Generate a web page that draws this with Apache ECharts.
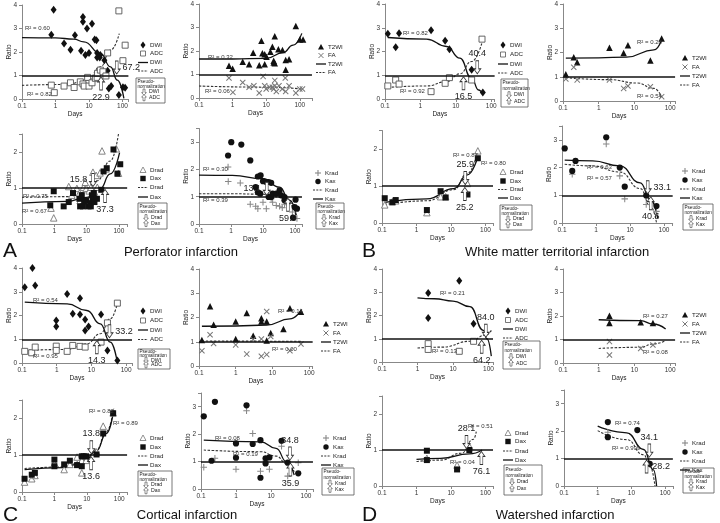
<!DOCTYPE html>
<html><head><meta charset="utf-8">
<script src="https://cdn.jsdelivr.net/npm/echarts@6/dist/echarts.min.js"></script>
<style>html,body{margin:0;padding:0;background:#fff}#c{width:720px;height:523px}</style>
</head><body><div id="c"></div>
<script>
// ---------- tick labels ----------
const xTickLabels = ['0.1', '1', '10', '100'];
const yTickLabels = ['0', '1', '2', '3', '4'];

// ---------- A: Perforator infarction ----------
const a1DWI = [[0.88,3.8],[0.75,2.73],[1.8,2.36],[2.8,2.1],[3.8,2.71],[5.8,2.05],[6.6,3.49],[6.6,3.29],[7.8,1.87],[8.7,3.0],[10,1.96],[12.3,3.2],[14.8,2.53],[16.7,2.5],[17.5,1.96],[17.5,1.77],[20.9,1.77],[21.8,1.87],[28.8,1.65],[36,1.2],[39,0.45],[46,0.55],[78,0.17],[103,0.5],[120,0.48]];
const a1ADC = [[0.75,0.59],[0.92,0.27],[1.8,0.55],[2.8,0.69],[3.6,0.49],[5.5,0.73],[6.6,0.64],[7.2,0.55],[9.1,0.92],[10,0.55],[12.3,0.69],[15.5,0.88],[17.5,0.92],[18,1.09],[21.8,1.23],[26,1.16],[32,0.98],[36,1.96],[78,3.75],[103,1.63],[120,2.29]];
const a1DWIFit = [[0.1,2.61],[1,2.6],[3.5,2.55],[7,2.43],[22,1.94],[44,1.37],[70,0.8],[110,0.03]];
const a1ADCFit = [[0.1,0.58],[2,0.62],[9,0.8],[22,1.37],[44,2.08],[80,2.78]];
const a1R2 = ['R² = 0.60', 'R² = 0.82'];
const a1Pseudo = [67.2, 22.9];

const a2T2 = [[0.78,1.37],[1.0,1.24],[2.0,1.54],[3.1,1.44],[4.1,1.93],[6.2,1.39],[7.2,2.44],[7.7,1.9],[9.0,1.86],[9.0,1.44],[10.2,1.76],[13.3,1.97],[15.3,2.18],[16.7,1.58],[18,2.63],[16.7,1.51],[18,1.48],[23,2.07],[30.5,2.04],[38,1.62],[38,1.2],[48,1.65],[76,3.06],[100,2.49],[125,2.49]];
const a2FA = [[0.78,0.85],[1.02,0.24],[2.0,0.66],[3.1,0.46],[4.3,0.52],[6.2,0.21],[8.1,0.92],[9.0,0.52],[10,0.38],[12.7,0.46],[15.3,0.46],[16.7,0.38],[18,0.75],[18,0.52],[20,0.28],[24,0.52],[30,0.38],[37,0.85],[38,0.28],[48,0.52],[76,0.21],[100,0.38],[120,0.38]];
const a2T2Fit = [[0.1,1.66],[1,1.66],[10,1.69],[32,1.93],[63,2.25],[115,2.75]];
const a2FAFit = [[0.1,0.51],[10,0.46],[120,0.38]];
const a2R2 = ['R² = 0.32', 'R² = 0.06'];

const a3Drad = [[0.79,0.44],[0.96,0.17],[2.8,1.04],[3.5,0.8],[5.0,0.99],[6.0,0.86],[6.3,0.65],[8.0,1.02],[9.1,1.16],[9.8,0.99],[10.7,0.64],[12,0.92],[13.5,1.02],[15.7,1.44],[17.5,0.89],[19.8,1.35],[21.5,1.02],[26,1.42],[30,2.03],[40,1.53],[83,2.09],[97,1.41]];
const a3Dax = [[0.75,0.52],[0.96,0.91],[1.95,0.49],[2.8,0.61],[3.8,0.86],[6.0,0.7],[6.3,0.49],[7.1,0.8],[7.7,0.49],[8.4,0.64],[9.8,0.66],[11.5,0.49],[13,0.58],[14.6,0.8],[15.7,0.7],[13.5,0.49],[16.7,0.86],[17.5,0.61],[20.9,0.7],[28.5,0.95],[33.5,1.46],[42,1.55],[68,2.07],[90,1.4],[110,1.66]];
const a3DradFit = [[0.1,0.74],[2.5,0.76],[8,0.88],[21,1.2],[54,1.75],[97,2.5]];
const a3DaxFit = [[0.1,0.58],[2.5,0.63],[10,0.74],[26,0.97],[54,1.39],[105,1.98]];
const a3R2 = ['R² = 0.75', 'R² = 0.67'];
const a3Pseudo = [15.8, 37.3];

const a4Krad = [[0.81,2.09],[0.82,1.56],[1.95,1.5],[4.0,0.72],[5.9,0.65],[6.9,0.56],[10,0.8],[12.7,0.56],[15,1.05],[18,0.93],[20,0.8],[26,0.68],[33,0.65],[40,0.6],[47,0.72],[53,0.8],[83,0.44],[110,0.6],[115,0.2]];
const a4Kax = [[0.81,2.51],[1.02,3.0],[2.1,2.91],[4.0,2.33],[5.9,1.35],[6.9,1.16],[8.2,1.11],[6.9,1.74],[8.4,1.78],[10,1.57],[12.7,1.54],[15,1.54],[18,1.51],[15,0.99],[18,0.99],[20,1.11],[26,1.11],[33,1.23],[37,1.05],[47,0.99],[47,0.87],[87,0.23],[104,0.89],[115,0.56],[97,0.62]];
const a4KradFit = [[0.1,1.11],[1,1.11],[10,1.09],[33,0.99],[68,0.74],[110,0.26]];
const a4KaxFit = [[0.1,1.79],[1.1,1.78],[10,1.66],[33,1.35],[68,0.87],[110,0.32]];
const a4R2 = ['R² = 0.30', 'R² = 0.39'];
const a4Pseudo = [13.1, 59.9];

// ---------- B: White matter territorial infarction ----------
const b1DWI = [[0.12,2.75],[0.2,2.18],[0.25,2.77],[2,2.89],[5,2.45],[6.6,2.1],[28,1.23],[58,0.27]];
const b1ADC = [[0.12,0.55],[0.2,0.8],[0.25,0.63],[2,0.31],[5,0.66],[6.6,0.9],[28,0.8],[55,2.52]];
const b1DWIFit = [[0.12,2.59],[1.5,2.52],[5.5,2.21],[13,1.72],[28,0.87],[44,0.38],[58,0.2]];
const b1ADCFit = [[0.12,0.49],[1.5,0.55],[5.5,0.73],[13,1.06],[28,1.58],[58,2.49]];
const b1R2 = ['R² = 0.82', 'R² = 0.92'];
const b1Pseudo = [40.4, 16.5];

const b2T2 = [[0.12,1.1],[0.2,1.8],[0.25,1.6],[2,2.2],[5,1.98],[6.6,2.3],[28,1.67],[58,2.58]];
const b2FA = [[0.12,0.91],[0.2,1.39],[0.25,0.87],[2,0.87],[5,0.52],[6.6,0.62],[28,0.59],[58,0.18]];
const b2T2Fit = [[0.12,1.77],[1,1.78],[6,1.81],[35,2.11],[58,2.52]];
const b2FAFit = [[0.12,0.96],[2,0.88],[12,0.74],[35,0.52],[58,0.18]];
const b2R2 = ['R² = 0.28', 'R² = 0.54'];

const b3Drad = [[0.12,0.49],[0.2,0.58],[0.25,0.6],[2,0.28],[5,0.71],[7,0.71],[30,1.07],[60,1.95]];
const b3Dax = [[0.12,0.67],[0.2,0.56],[0.25,0.62],[2,0.35],[5,0.86],[7,0.69],[30,0.77],[60,1.75]];
const b3DradFit = [[0.12,0.5],[2,0.6],[12,0.9],[30,1.34],[60,1.95]];
const b3DaxFit = [[0.12,0.56],[2,0.65],[12,0.93],[30,1.3],[60,1.79]];
const b3R2 = ['R² = 0.87', 'R² = 0.80'];
const b3Pseudo = [25.9, 25.2];

const b4Krad = [[0.2,1.76],[2,2.85],[5,1.7],[7,0.87],[30,0.67],[60,0.42]];
const b4Kax = [[0.12,2.69],[0.2,1.88],[0.25,2.24],[2,3.09],[5,2.0],[7,1.31],[30,0.99],[60,0.61]];
const b4KradFit = [[0.12,2.12],[0.8,2.06],[5,1.84],[20,1.24],[40,0.61],[60,0.02]];
const b4KaxFit = [[0.12,2.27],[0.8,2.24],[5,2.06],[20,1.45],[40,0.85],[65,0.18]];
const b4R2 = ['R² = 0.63', 'R² = 0.57'];
const b4Pseudo = [33.1, 40.6];

// ---------- C: Cortical infarction ----------
const c1DWI = [[0.12,3.19],[0.2,4.0],[0.24,3.26],[0.97,1.79],[0.97,1.54],[2,2.91],[2.9,2.07],[4.7,2.73],[4.7,2.04],[6.6,1.83],[6.6,1.37],[8.3,1.54],[19,2.04],[29,0.53],[56,0.11]];
const c1ADC = [[0.12,0.49],[0.19,0.43],[0.24,0.67],[0.97,0.71],[0.97,0.53],[2,0.49],[2.9,0.74],[4.7,0.7],[6.6,0.67],[19,0.88],[29,1.69],[56,2.52]];
const c1DWIFit = [[0.12,2.56],[2,2.49],[7.4,2.21],[18,1.65],[35,0.88],[56,0.02]];
const c1ADCFit = [[0.12,0.53],[2,0.57],[7.4,0.81],[18,1.23],[35,1.86],[56,2.52]];
const c1R2 = ['R² = 0.54', 'R² = 0.95'];
const c1Pseudo = [33.2, 14.3];

const c2T2 = [[0.12,1.07],[0.2,2.46],[0.25,1.7],[1,1.83],[1,1.11],[2,2.19],[3,1.25],[5,1.97],[5,1.83],[7,1.83],[7,1.05],[9,1.36],[20,1.53],[30,2.38],[60,2.24]];
const c2FA = [[0.12,0.63],[0.2,1.29],[0.25,0.93],[1,0.87],[2,0.49],[3,1.09],[5,0.4],[5,1.11],[7,2.25],[7,0.47],[9,1.22],[30,0.63],[60,0.91]];
const c2T2Fit = [[0.12,1.64],[1,1.65],[7,1.69],[30,1.94],[60,2.28]];
const c2FAFit = [[0.12,1.03],[60,1.02]];
const c2R2 = ['R² = 0.14', 'R² = 0.00'];

const c3Drad = [[0.12,0.27],[0.2,0.36],[0.25,0.45],[1,0.79],[2,0.61],[3,0.75],[5,0.95],[7,0.52],[7,0.86],[9.5,0.86],[20,1.09],[32,1.79],[65,2.15]];
const c3Dax = [[0.12,0.36],[0.2,0.47],[0.25,0.52],[1,0.88],[1,0.7],[2,0.75],[3,0.85],[5,0.73],[7,0.97],[7,0.7],[8,0.97],[9.5,0.97],[20,1.02],[32,1.59],[65,2.14]];
const c3DradFit = [[0.12,0.64],[2,0.68],[8,0.85],[20,1.15],[40,1.64],[68,2.27]];
const c3DaxFit = [[0.12,0.61],[2,0.66],[8,0.82],[20,1.12],[40,1.59],[68,2.23]];
const c3R2 = ['R² = 0.82', 'R² = 0.89'];
const c3Pseudo = [13.8, 13.6];

const c4Krad = [[0.12,0.79],[0.25,1.12],[1,0.72],[2,2.85],[3,2.02],[5,0.65],[7,1.02],[9,0.72],[20,1.56],[30,0.47],[60,0.96]];
const c4Kax = [[0.12,2.65],[0.25,3.18],[0.2,1.03],[1,1.66],[1,1.14],[2,3.05],[3,1.64],[5,1.78],[5,0.41],[7,1.12],[7,0.93],[9,1.15],[20,1.76],[30,0.96],[60,0.57]];
const c4KradFit = [[0.12,1.42],[5,1.36],[14,1.2],[28,0.93],[46,0.63]];
const c4KaxFit = [[0.12,1.78],[5,1.72],[14,1.48],[28,0.99],[46,0.51]];
const c4R2 = ['R² = 0.08', 'R² = 0.19'];
const c4Pseudo = [34.8, 35.9];

// ---------- D: Watershed infarction ----------
const d1DWI = [[2,2.97],[2,1.89],[15,3.5],[38,1.64]];
const d1ADC = [[2,0.79],[2,0.54],[15,0.46],[38,0.89]];
const d1DWIFit = [[1,2.76],[3,2.72],[10,2.62],[30,2.38],[72,1.36],[90,1.0],[120,0.25]];
const d1ADCFit = [[1,0.6],[5,0.64],[30,0.89],[88,1.17],[120,1.36]];
const d1R2 = ['R² = 0.21', 'R² = 0.13'];
const d1Pseudo = [84.0, 64.2];

const d2T2 = [[2,2.01],[2,1.7],[15,1.73],[33,1.7]];
const d2FA = [[2,0.91],[2,0.34],[15,0.62],[33,0.77]];
const d2T2Fit = [[1,1.84],[15,1.8],[33,1.66],[75,1.45]];
const d2FAFit = [[1,0.62],[15,0.67],[33,0.81],[75,0.95]];
const d2R2 = ['R² = 0.27', 'R² = 0.08'];

const d3Drad = [[2,0.77],[15,0.58],[34,1.11]];
const d3Dax = [[2,0.98],[2,0.72],[15,0.46],[34,1.0]];
const d3DradFit = [[1,0.68],[5,0.72],[20,0.91],[45,1.3],[54,1.51]];
const d3DaxFit = [[1,0.74],[5,0.77],[34,0.89],[80,1.0]];
const d3R2 = ['R² = 0.51', 'R² = 0.04'];
const d3Pseudo = [28.1, 76.1];

const d4Krad = [[2,1.96],[35,0.78]];
const d4Kax = [[2,2.33],[2,1.78],[15,2.04],[35,0.81]];
const d4KradFit = [[1,2.02],[7.3,1.69],[23,1.14],[36,0.71],[50,0.0]];
const d4KaxFit = [[1,2.18],[7.3,1.94],[23,1.33],[45,0.59],[56,0.0]];
const d4R2 = ['R² = 0.74', 'R² = 0.999'];
const d4Pseudo = [34.1, 28.2];

const titles = ['Perforator infarction', 'White matter territorial infarction', 'Cortical infarction', 'Watershed infarction'];
const letters = ['A', 'B', 'C', 'D'];
const pseudoTitle = ['Pseudo-', 'normalization'];

// ---------- styling ----------
const FONT = '"Liberation Sans", Arial, Helvetica, sans-serif';
const X_PATH = 'path://M0,1.2L1.2,0L5,3.8L8.8,0L10,1.2L6.2,5L10,8.8L8.8,10L5,6.2L1.2,10L0,8.8L3.8,5Z';
const PLUS_PATH = 'path://M4.2,0L5.8,0L5.8,4.2L10,4.2L10,5.8L5.8,5.8L5.8,10L4.2,10L4.2,5.8L0,5.8L0,4.2L4.2,4.2Z';
const UP_ARROW = 'path://M5,0L10,6L7,6L7,16L3,16L3,6L0,6Z';
const DOWN_ARROW = 'path://M3,0L7,0L7,10L10,10L5,16L0,10L3,10Z';
const MARKS = {
  dwi: {symbol: 'diamond', size: [6, 8], fill: '#111', stroke: null},
  adc: {symbol: 'rect', size: 6, fill: '#fff', stroke: '#555'},
  t2: {symbol: 'triangle', size: 6.5, fill: '#111', stroke: null},
  fa: {symbol: X_PATH, size: 6, fill: '#777', stroke: null},
  drad: {symbol: 'triangle', size: 6.5, fill: '#fff', stroke: '#777'},
  dax: {symbol: 'rect', size: 6, fill: '#111', stroke: null},
  krad: {symbol: PLUS_PATH, size: 6.5, fill: '#888', stroke: null},
  kax: {symbol: 'circle', size: 6.2, fill: '#111', stroke: null}
};

// ---------- panel layout ----------
const panels = [
  {left:22, top:5, bottom:99, decade:33.5, xmax:150, ymax:4, s1:{name:'DWI',data:a1DWI,mark:'dwi'}, s2:{name:'ADC',data:a1ADC,mark:'adc'}, f:[a1DWIFit,a1ADCFit], dash:[false,true], r2:a1R2, r2pos:[[25,28],[27,94]], pseudo:a1Pseudo, plab:['right','bottom'], legend:{x:143, ys:[45,53.5,62.5,71], box:[136,78,29,25]}},
  {left:199, top:4, bottom:98, decade:33.6, xmax:230, ymax:4, s1:{name:'T2WI',data:a2T2,mark:'t2'}, s2:{name:'FA',data:a2FA,mark:'fa'}, f:[a2T2Fit,a2FAFit], dash:[false,true], r2:a2R2, r2pos:[[208,57],[205,91]], legend:{x:321, ys:[47,55.5,64,72.5]}},
  {left:22, top:134, bottom:224, decade:32.3, xmax:180, ymax:2.5, s1:{name:'Drad',data:a3Drad,mark:'drad'}, s2:{name:'Dax',data:a3Dax,mark:'dax'}, f:[a3DradFit,a3DaxFit], dash:[true,false], r2:a3R2, r2pos:[[23,196],[22,211]], pseudo:a3Pseudo, plab:['left','bottom'], legend:{x:143, ys:[170,178.5,187.5,197], box:[138,203,29,26]}},
  {left:199, top:128.5, bottom:224, decade:32, xmax:165, ymax:3.5, s1:{name:'Krad',data:a4Krad,mark:'krad'}, s2:{name:'Kax',data:a4Kax,mark:'kax'}, f:[a4KradFit,a4KaxFit], dash:[true,false], r2:a4R2, r2pos:[[203,169],[203,200]], pseudo:a4Pseudo, plab:['left','bottom'], legend:{x:318, ys:[173,181.5,190,199], box:[316,203,28,26]}},

  {left:385, top:4, bottom:99, decade:35.4, xmax:125, ymax:4, s1:{name:'DWI',data:b1DWI,mark:'dwi'}, s2:{name:'ADC',data:b1ADC,mark:'adc'}, f:[b1DWIFit,b1ADCFit], dash:[false,true], r2:b1R2, r2pos:[[403,33],[400,91]], pseudo:b1Pseudo, plab:['top','bottom'], legend:{x:503, ys:[45,54.5,64,73], box:[501,79,27,28]}},
  {left:563, top:4, bottom:101, decade:35.7, xmax:138, ymax:4, s1:{name:'T2WI',data:b2T2,mark:'t2'}, s2:{name:'FA',data:b2FA,mark:'fa'}, f:[b2T2Fit,b2FAFit], dash:[false,true], r2:b2R2, r2pos:[[637,42],[637,96]], legend:{x:685, ys:[58,67,76,85]}},
  {left:382, top:130.5, bottom:223, decade:34.5, xmax:165, ymax:2.5, s1:{name:'Drad',data:b3Drad,mark:'drad'}, s2:{name:'Dax',data:b3Dax,mark:'dax'}, f:[b3DradFit,b3DaxFit], dash:[true,false], r2:b3R2, r2pos:[[453,155],[481,163]], pseudo:b3Pseudo, plab:['top','bottom'], legend:{x:503, ys:[172,181,189.5,198], box:[500,205,32,25]}},
  {left:562, top:126, bottom:223, decade:34, xmax:180, ymax:3.5, s1:{name:'Krad',data:b4Krad,mark:'krad'}, s2:{name:'Kax',data:b4Kax,mark:'kax'}, f:[b4KradFit,b4KaxFit], dash:[true,false], r2:b4R2, r2pos:[[587,167],[587,178]], pseudo:b4Pseudo, plab:['right','bottom'], legend:{x:685, ys:[171,180,189,198], box:[683,204,30,26]}},

  {left:22, top:268, bottom:363, decade:34.7, xmax:148, ymax:4, s1:{name:'DWI',data:c1DWI,mark:'dwi'}, s2:{name:'ADC',data:c1ADC,mark:'adc'}, f:[c1DWIFit,c1ADCFit], dash:[false,true], r2:c1R2, r2pos:[[33,300],[33,356]], pseudo:c1Pseudo, plab:['right','bottom'], legend:{x:143, ys:[311,320.5,330,339.5], box:[138,349,32,20]}},
  {left:199, top:269, bottom:366, decade:36.7, xmax:125, ymax:4, s1:{name:'T2WI',data:c2T2,mark:'t2'}, s2:{name:'FA',data:c2FA,mark:'fa'}, f:[c2T2Fit,c2FAFit], dash:[false,true], r2:c2R2, r2pos:[[278,311],[272,349]], legend:{x:326, ys:[324,333,342,351]}},
  {left:22, top:400, bottom:492, decade:32.4, xmax:175, ymax:2.5, s1:{name:'Drad',data:c3Drad,mark:'drad'}, s2:{name:'Dax',data:c3Dax,mark:'dax'}, f:[c3DradFit,c3DaxFit], dash:[true,false], r2:c3R2, r2pos:[[89,411],[113,423]], pseudo:c3Pseudo, plab:['top','bottom'], legend:{x:143, ys:[438,447,456,465], box:[138,471,34,25]}},
  {left:201, top:393, bottom:489, decade:35, xmax:158, ymax:3.5, s1:{name:'Krad',data:c4Krad,mark:'krad'}, s2:{name:'Kax',data:c4Kax,mark:'kax'}, f:[c4KradFit,c4KaxFit], dash:[true,false], r2:c4R2, r2pos:[[215,438],[233,454]], pseudo:c4Pseudo, plab:['top','bottom'], legend:{x:326, ys:[438,447,456,465], box:[322,468,32,27]}},

  {left:382, top:269, bottom:362, decade:35.5, xmax:134, ymax:4, s1:{name:'DWI',data:d1DWI,mark:'dwi'}, s2:{name:'ADC',data:d1ADC,mark:'adc'}, f:[d1DWIFit,d1ADCFit], dash:[false,true], r2:d1R2, r2pos:[[440,293],[432,351]], pseudo:d1Pseudo, plab:['top','bottom'], legend:{x:508, ys:[311,320,329,338], box:[503,341,37,28]}},
  {left:563, top:269, bottom:363, decade:35.7, xmax:138, ymax:4, s1:{name:'T2WI',data:d2T2,mark:'t2'}, s2:{name:'FA',data:d2FA,mark:'fa'}, f:[d2T2Fit,d2FAFit], dash:[false,true], r2:d2R2, r2pos:[[643,316],[643,352]], legend:{x:685, ys:[315,324,333,342]}},
  {left:382, top:396, bottom:486, decade:34.5, xmax:165, ymax:2.5, s1:{name:'Drad',data:d3Drad,mark:'drad'}, s2:{name:'Dax',data:d3Dax,mark:'dax'}, f:[d3DradFit,d3DaxFit], dash:[true,false], r2:d3R2, r2pos:[[468,426],[450,462]], pseudo:d3Pseudo, plab:['top','bottom'], legend:{x:508, ys:[433,441.5,451,460], box:[504,465,38,30]}},
  {left:564, top:390, bottom:486, decade:33.7, xmax:170, ymax:3.5, s1:{name:'Krad',data:d4Krad,mark:'krad'}, s2:{name:'Kax',data:d4Kax,mark:'kax'}, f:[d4KradFit,d4KaxFit], dash:[true,false], r2:d4R2, r2pos:[[615,423],[612,448]], pseudo:d4Pseudo, plab:['top','right'], legend:{x:685, ys:[443,452,461,470], box:[683,468,31,25]}}
];
const titlePos = [[3,251,181,252],[362,251,557,252],[3,515,187,515],[362,515,555,515]];

// ---------- helpers ----------
function txt(x, y, text, size, align, color, weight) {
  align = align || 'left';
  return {type:'text', x:x, y:y, z:60, silent:true,
    style:{text:text, fill:color || '#222', font:(weight || 'normal') + ' ' + size + 'px ' + FONT,
      textAlign:align, textVerticalAlign:'middle', align:align, verticalAlign:'middle'}};
}
function seg(x1, y1, x2, y2, color, w, dash) {
  return {type:'line', z:60, silent:true, shape:{x1:x1, y1:y1, x2:x2, y2:y2},
    style:{stroke:color, lineWidth:w, lineDash:dash || null}};
}
function markerGraphic(kind, cx, cy) {
  const S = {z:60, silent:true};
  switch (kind) {
    case 'dwi': return [Object.assign({type:'polygon', shape:{points:[[cx,cy-3.5],[cx+2.5,cy],[cx,cy+3.5],[cx-2.5,cy]]}, style:{fill:'#111'}}, S)];
    case 'adc': return [Object.assign({type:'rect', shape:{x:cx-2.5, y:cy-2.5, width:5, height:5}, style:{fill:'#fff', stroke:'#555', lineWidth:0.8}}, S)];
    case 't2': return [Object.assign({type:'polygon', shape:{points:[[cx,cy-3],[cx+3,cy+2.5],[cx-3,cy+2.5]]}, style:{fill:'#111'}}, S)];
    case 'fa': return [seg(cx-2.5,cy-2.5,cx+2.5,cy+2.5,'#777',1), seg(cx+2.5,cy-2.5,cx-2.5,cy+2.5,'#777',1)];
    case 'drad': return [Object.assign({type:'polygon', shape:{points:[[cx,cy-3],[cx+3,cy+2.5],[cx-3,cy+2.5]]}, style:{fill:'#fff', stroke:'#777', lineWidth:0.8}}, S)];
    case 'dax': return [Object.assign({type:'rect', shape:{x:cx-2.7, y:cy-2.7, width:5.4, height:5.4}, style:{fill:'#111'}}, S)];
    case 'krad': return [seg(cx-3,cy,cx+3,cy,'#888',1.1), seg(cx,cy-3,cx,cy+3,'#888',1.1)];
    case 'kax': return [Object.assign({type:'circle', shape:{cx:cx, cy:cy, r:2.7}, style:{fill:'#111'}}, S)];
  }
  return [];
}
function smallArrow(cx, cy, up) {
  const s = up ? 1 : -1;
  const pts = [[0,-3.2],[2.4,-0.6],[1,-0.6],[1,3],[-1,3],[-1,-0.6],[-2.4,-0.6]].map(p => [cx + p[0], cy + s * p[1]]);
  return {type:'polygon', z:60, silent:true, shape:{points:pts}, style:{fill:'#fff', stroke:'#444', lineWidth:0.6}};
}
function legendGraphics(p) {
  const g = [];
  const L = p.legend, lx = L.x;
  const items = [
    {t:'m', m:p.s1.mark, name:p.s1.name}, {t:'m', m:p.s2.mark, name:p.s2.name},
    {t:'l', dash:p.dash[0], name:p.s1.name}, {t:'l', dash:p.dash[1], name:p.s2.name}];
  items.forEach((it, k) => {
    const y = L.ys[k];
    if (it.t === 'm') g.push.apply(g, markerGraphic(it.m, lx, y));
    else g.push(seg(lx - 5, y, lx + 5, y, it.dash ? '#333' : '#111', it.dash ? 1 : 1.3, it.dash ? [2, 1.3] : null));
    g.push(txt(lx + 7, y, it.name, 6.2));
  });
  if (L.box) {
    const [bx, by, bw, bh] = L.box;
    g.push({type:'rect', z:59, silent:true, shape:{x:bx, y:by, width:bw, height:bh}, style:{fill:'#fff', stroke:'#555', lineWidth:0.8}});
    g.push(txt(bx + 1.5, by + bh * 0.15, pseudoTitle[0], 4.6));
    g.push(txt(bx + 1.5, by + bh * 0.35, pseudoTitle[1], 4.6));
    g.push(smallArrow(bx + 8, by + bh * 0.56, false));
    g.push(txt(bx + 13, by + bh * 0.56, p.s1.name, 5.2));
    g.push(smallArrow(bx + 8, by + bh * 0.79, true));
    g.push(txt(bx + 13, by + bh * 0.79, p.s2.name, 5.2));
  }
  return g;
}
function fmtX(v) {
  const l = Math.log10(v);
  if (Math.abs(l - Math.round(l)) > 1e-6) return '';
  return xTickLabels[Math.round(l) + 1] || '';
}
function fmtY(v) {
  return Number.isInteger(v) ? (yTickLabels[v] || '') : '';
}

// ---------- build option ----------
const grids = [], xAxes = [], yAxes = [], series = [], graphics = [];
const axisCommon = {
  axisLine:{show:true, onZero:false, lineStyle:{color:'#888', width:1}},
  axisTick:{show:true, length:3, lineStyle:{color:'#888'}},
  splitLine:{show:false}
};
panels.forEach((p, i) => {
  const width = (Math.log10(p.xmax) + 1) * p.decade;
  grids.push({left:p.left, top:p.top, width:width, height:p.bottom - p.top});
  xAxes.push(Object.assign({type:'log', logBase:10, gridIndex:i, min:0.1, max:p.xmax,
    axisLabel:{fontSize:6.5, color:'#333', margin:4, formatter:fmtX, fontFamily:FONT},
    name:'Days', nameLocation:'middle', nameGap:11.5, nameMoveOverlap:false,
    nameTextStyle:{fontSize:6.5, color:'#222', fontFamily:FONT}}, axisCommon));
  yAxes.push(Object.assign({type:'value', gridIndex:i, min:0, max:p.ymax, interval:1,
    axisLabel:{fontSize:6.5, color:'#333', margin:5, formatter:fmtY, fontFamily:FONT},
    name:'Ratio', nameLocation:'middle', nameGap:9, nameRotate:90, nameMoveOverlap:false,
    nameTextStyle:{fontSize:6.5, color:'#222', fontFamily:FONT}}, axisCommon));

  [p.s1, p.s2].forEach((s, k) => {
    const m = MARKS[s.mark];
    const ser = {type:'scatter', name:s.name, xAxisIndex:i, yAxisIndex:i, data:s.data,
      symbol:m.symbol, symbolSize:m.size, z:4,
      itemStyle:{color:m.fill, borderColor:m.stroke || m.fill, borderWidth:m.stroke ? 0.9 : 0, opacity:1},
      emphasis:{disabled:true}};
    if (k === 0) {
      ser.markLine = {silent:true, symbol:['none','none'], label:{show:false},
        lineStyle:{color:'#111', width:1.5, type:'solid'}, data:[{yAxis:1}], animation:false};
    }
    series.push(ser);
  });
  p.f.forEach((d, k) => {
    const dash = p.dash[k];
    series.push({type:'line', name:(k ? p.s2.name : p.s1.name) + ' fit', xAxisIndex:i, yAxisIndex:i, data:d,
      symbol:'none', showSymbol:false, smooth:0.5, smoothMonotone:'x', z:3,
      lineStyle:{color:dash ? '#333' : '#111', width:dash ? 1.1 : 1.3, type:dash ? [2.5, 1.5] : 'solid'},
      emphasis:{disabled:true}});
  });
  if (p.pseudo) {
    p.pseudo.forEach((v, k) => {
      const down = k === 0;
      series.push({type:'scatter', name:'pseudo', xAxisIndex:i, yAxisIndex:i, data:[[v, 1]], z:5,
        symbol:down ? DOWN_ARROW : UP_ARROW, symbolSize:[7, 13], symbolOffset:[0, down ? -8 : 8],
        itemStyle:{color:'#fff', borderColor:'#333', borderWidth:0.8, opacity:1},
        label:{show:true, position:p.plab[k], distance:2, fontSize:9, color:'#222', fontFamily:FONT,
          formatter:(q) => q.value[0].toFixed(1)},
        emphasis:{disabled:true}});
    });
  }
  p.r2.forEach((t, k) => graphics.push(txt(p.r2pos[k][0], p.r2pos[k][1], t, 6, 'left', '#333')));
  graphics.push.apply(graphics, legendGraphics(p));
});
letters.forEach((l, k) => {
  const tp = titlePos[k];
  graphics.push(txt(tp[0], tp[1], l, 21, 'left', '#111'));
  graphics.push(txt(tp[2], tp[3], titles[k], 13, 'center', '#111'));
});

const chart = echarts.init(document.getElementById('c'), null, {renderer:'canvas'});
chart.setOption({
  animation:false,
  backgroundColor:'#fff',
  textStyle:{fontFamily:FONT},
  grid:grids, xAxis:xAxes, yAxis:yAxes, series:series,
  graphic:graphics
});
</script>
</body></html>
